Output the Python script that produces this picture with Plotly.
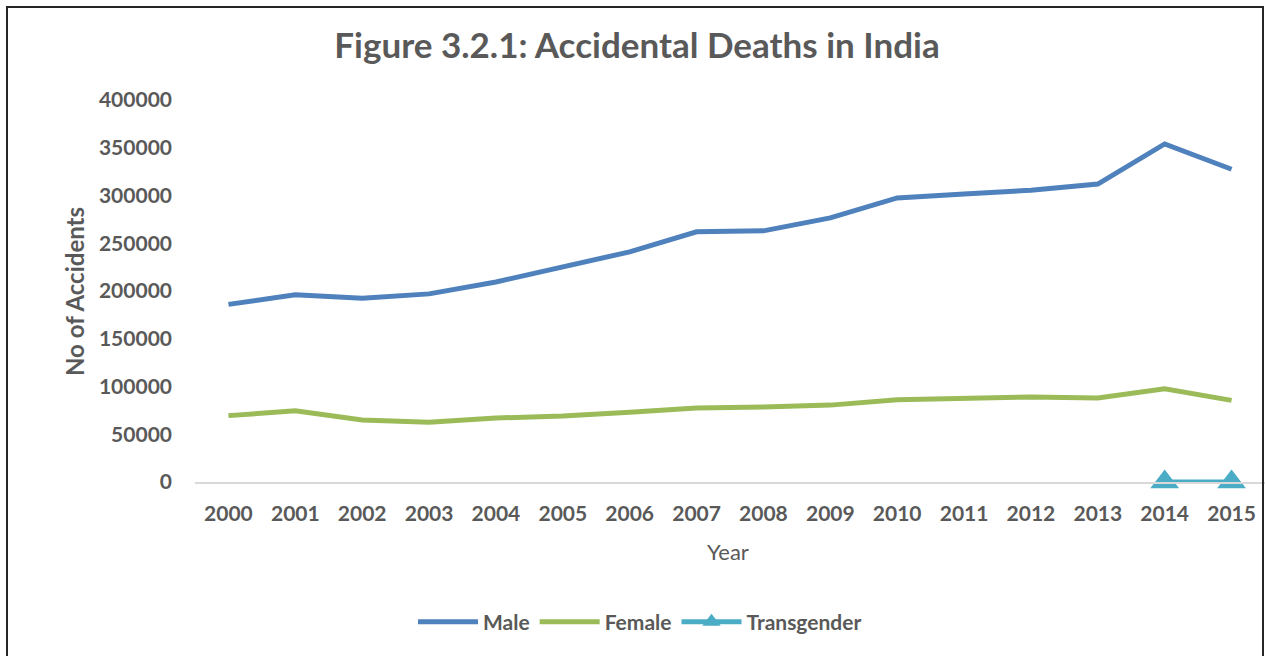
import plotly.graph_objects as go

years = [str(y) for y in range(2000, 2016)]
male = [186000, 196000, 192500, 197000, 209500, 225000, 241000, 262000, 263000, 276500,
        297500, 301500, 305500, 312000, 354000, 327500]
female = [69500, 74500, 65000, 62500, 67000, 69000, 73000, 77500, 78500, 80500,
          86000, 88000, 89000, 88000, 97500, 85500]
trans_years = ["2014", "2015"]
transgender = [0, 0]
y_ticks = [0, 50000, 100000, 150000, 200000, 250000, 300000, 350000, 400000]

FONT = "Lato"
GRAY = "#595959"

fig = go.Figure()
fig.add_trace(go.Scatter(x=years, y=male, mode="lines", name="Male",
                         line=dict(color="#4F81BD", width=5)))
fig.add_trace(go.Scatter(x=years, y=female, mode="lines", name="Female",
                         line=dict(color="#9BBB59", width=5)))
fig.add_trace(go.Scatter(x=trans_years, y=transgender, mode="lines+markers", name="Transgender",
                         line=dict(color="#4BACC6", width=5), cliponaxis=False,
                         marker=dict(symbol="triangle-up", size=25, color="#4BACC6")))

L, R, T, B = 195, 0, 100, 174
W, H = 1265, 656
pw = W - L - R
ph = H - T - B

def px_x(p):
    return (p - L) / pw

def px_y(p):
    return (H - B - p) / ph

fig.update_layout(
    width=W, height=H,
    margin=dict(l=L, r=R, t=T, b=B),
    paper_bgcolor="white", plot_bgcolor="white",
    font=dict(family=FONT, color=GRAY),
    title=dict(text="<b>Figure 3.2.1: Accidental Deaths in India</b>",
               x=637 / W, xref="container", xanchor="center",
               y=1 - 46 / H, yref="container", yanchor="middle",
               font=dict(family=FONT, size=35, color=GRAY)),
    showlegend=True,
    legend=dict(orientation="h", x=px_x(640), xanchor="center",
                y=px_y(622), yanchor="middle",
                font=dict(family=FONT, size=21, color=GRAY, weight="bold"),
                itemwidth=60, traceorder="normal"),
    xaxis=dict(type="category", range=[-0.5, 15.5], showgrid=False, zeroline=False,
               showline=True, linecolor="#D9D9D9", linewidth=2,
               tickfont=dict(family=FONT, size=21, color=GRAY, weight="bold"),
               ticks="", ticklabelstandoff=12, fixedrange=True),
    yaxis=dict(range=[0, 400000], tickvals=y_ticks, showgrid=False, zeroline=False,
               showline=False, tickformat="d",
               tickfont=dict(family=FONT, size=21, color=GRAY, weight="bold"),
               ticks="", ticklabelstandoff=22, fixedrange=True),
    annotations=[
        dict(text="<b>No of Accidents</b>", textangle=-90, xref="paper", yref="paper",
             x=px_x(74), y=px_y(292), xanchor="center", yanchor="middle", showarrow=False,
             font=dict(family=FONT, size=24, color=GRAY)),
        dict(text="Year", xref="paper", yref="paper",
             x=px_x(728), y=px_y(551), xanchor="center", yanchor="middle", showarrow=False,
             font=dict(family=FONT, size=22, color=GRAY)),
    ],
    shapes=[
        dict(type="rect", xref="paper", yref="paper",
             x0=px_x(7), x1=px_x(1263), y0=px_y(720), y1=px_y(7),
             line=dict(color="#262626", width=2), fillcolor="rgba(0,0,0,0)", layer="above"),
    ],
)

fig.write_html("out.html", config={"displayModeBar": False},
               post_script="document.body.style.margin='0';document.body.style.overflow='hidden';")
